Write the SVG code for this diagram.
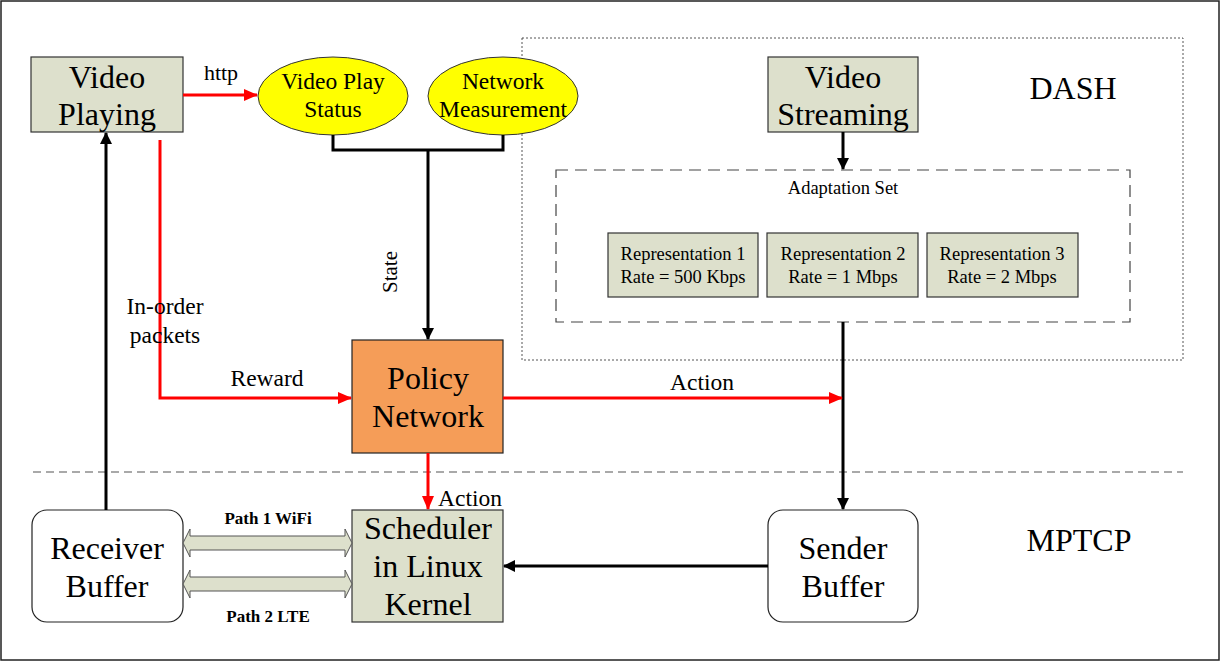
<svg xmlns="http://www.w3.org/2000/svg" width="1222" height="662" viewBox="0 0 1222 662">
<style>
text{fill:#000;text-anchor:middle}
.big{font-size:32px}
.mid{font-size:23.5px}
.sm{font-size:18.5px}
.b{font-weight:bold;font-size:17px}
.box{fill:#DDE0CC;stroke:#333;stroke-width:1.2}
.rb{fill:#fff;stroke:#222;stroke-width:1.2}
.ell{fill:#FFFF00;stroke:#333;stroke-width:1}
.k{stroke:#000;stroke-width:3;fill:none}
.r{stroke:#FF0000;stroke-width:3;fill:none}
</style>
<defs>
<marker id="ak" markerWidth="12" markerHeight="12" refX="11" refY="6" orient="auto" markerUnits="userSpaceOnUse"><path d="M0,0 L12,6 L0,12 z" fill="#000"/></marker>
<marker id="ar" markerWidth="14" markerHeight="12" refX="13" refY="6" orient="auto" markerUnits="userSpaceOnUse"><path d="M0,0 L14,6 L0,12 z" fill="#FF0000"/></marker>
</defs>
<rect x="1" y="1" width="1218" height="659" fill="#fff" stroke="#222" stroke-width="1.5"/>
<g id="dash-region">
<rect x="522" y="38" width="661" height="322" fill="none" stroke="#555" stroke-width="1" stroke-dasharray="2,2"/>
<text font-family="Liberation Serif" class="big" x="1073" y="99">DASH</text>
</g>
<line x1="33" y1="472" x2="1183" y2="472" stroke="#555" stroke-width="1.2" stroke-dasharray="8,5"/>
<text font-family="Liberation Serif" class="big" x="1079" y="551">MPTCP</text>
<g id="adaptation-set">
<rect x="556" y="170" width="574" height="152" fill="none" stroke="#444" stroke-width="1.2" stroke-dasharray="12,7"/>
<text font-family="Liberation Serif" class="sm" x="843" y="194">Adaptation Set</text>
</g>
<g id="video-playing"><rect class="box" x="31" y="57" width="152" height="75"/>
<text font-family="Liberation Serif" class="big" x="107" y="88">Video</text><text font-family="Liberation Serif" class="big" x="107" y="125">Playing</text></g>
<g id="video-play-status"><ellipse class="ell" cx="333" cy="96" rx="75" ry="39"/>
<text font-family="Liberation Serif" class="mid" x="333" y="89">Video Play</text><text font-family="Liberation Serif" class="mid" x="333" y="117">Status</text></g>
<g id="network-measurement"><ellipse class="ell" cx="503" cy="96" rx="75" ry="39"/>
<text font-family="Liberation Serif" class="mid" x="503" y="89">Network</text><text font-family="Liberation Serif" class="mid" x="503" y="117">Measurement</text></g>
<g id="video-streaming"><rect class="box" x="768" y="57" width="150" height="75"/>
<text font-family="Liberation Serif" class="big" x="843" y="88">Video</text><text font-family="Liberation Serif" class="big" x="843" y="125">Streaming</text></g>
<g id="rep1"><rect class="box" x="608" y="233" width="150" height="64"/>
<text font-family="Liberation Serif" class="sm" x="683" y="260">Representation 1</text><text font-family="Liberation Serif" class="sm" x="683" y="283">Rate = 500 Kbps</text></g>
<g id="rep2"><rect class="box" x="767" y="233" width="151" height="64"/>
<text font-family="Liberation Serif" class="sm" x="843" y="260">Representation 2</text><text font-family="Liberation Serif" class="sm" x="843" y="283">Rate = 1 Mbps</text></g>
<g id="rep3"><rect class="box" x="927" y="233" width="151" height="64"/>
<text font-family="Liberation Serif" class="sm" x="1002" y="260">Representation 3</text><text font-family="Liberation Serif" class="sm" x="1002" y="283">Rate = 2 Mbps</text></g>
<g id="policy-network"><rect x="352" y="340" width="151" height="113" fill="#F59D58" stroke="#222" stroke-width="1.2"/>
<text font-family="Liberation Serif" class="big" x="428" y="389">Policy</text><text font-family="Liberation Serif" class="big" x="428" y="427">Network</text></g>
<g id="receiver-buffer"><rect class="rb" x="32" y="510" width="151" height="112" rx="15"/>
<text font-family="Liberation Serif" class="big" x="107" y="559">Receiver</text><text font-family="Liberation Serif" class="big" x="107" y="597">Buffer</text></g>
<g id="scheduler"><rect class="box" x="352" y="510" width="151" height="112"/>
<text font-family="Liberation Serif" class="big" x="428" y="539">Scheduler</text><text font-family="Liberation Serif" class="big" x="428" y="577">in Linux</text><text font-family="Liberation Serif" class="big" x="428" y="615">Kernel</text></g>
<g id="sender-buffer"><rect class="rb" x="768" y="510" width="150" height="112" rx="15"/>
<text font-family="Liberation Serif" class="big" x="843" y="559">Sender</text><text font-family="Liberation Serif" class="big" x="843" y="597">Buffer</text></g>
<g id="connectors">
<line class="r" x1="183" y1="95" x2="257" y2="95" marker-end="url(#ar)"/>
<text font-family="Liberation Serif" font-size="22" x="221" y="80">http</text>
<polyline class="k" points="333,135 333,150 503,150 503,135"/>
<line class="k" x1="428" y1="150" x2="428" y2="339" marker-end="url(#ak)"/>
<text font-family="Liberation Serif" font-size="21" transform="translate(397,272) rotate(-90)">State</text>
<line class="k" x1="843" y1="132" x2="843" y2="169" marker-end="url(#ak)"/>
<line class="k" x1="843" y1="322" x2="843" y2="509" marker-end="url(#ak)"/>
<polyline class="r" points="160,140 160,398 351,398" marker-end="url(#ar)"/>
<text font-family="Liberation Serif" class="mid" x="267" y="386">Reward</text>
<text font-family="Liberation Serif" class="mid" x="165" y="314">In-order</text>
<text font-family="Liberation Serif" class="mid" x="165" y="343">packets</text>
<line class="k" x1="106" y1="510" x2="106" y2="133" marker-end="url(#ak)"/>
<line class="r" x1="503" y1="398" x2="842" y2="398" marker-end="url(#ar)"/>
<text font-family="Liberation Serif" class="mid" x="702" y="390">Action</text>
<line class="r" x1="428" y1="453" x2="428" y2="509" marker-end="url(#ar)"/>
<text font-family="Liberation Serif" class="mid" x="470" y="506">Action</text>
<line class="k" x1="768" y1="566" x2="504" y2="566" marker-end="url(#ak)"/>
<path d="M183,543 L190,529 L190,536 L345,536 L345,529 L352,543 L345,557 L345,550 L190,550 L190,557 Z" fill="#DDE0CC" stroke="#555" stroke-width="1"/>
<path d="M183,584 L190,570 L190,577 L345,577 L345,570 L352,584 L345,598 L345,591 L190,591 L190,598 Z" fill="#DDE0CC" stroke="#555" stroke-width="1"/>
<text font-family="Liberation Serif" class="b" x="268" y="524">Path 1 WiFi</text>
<text font-family="Liberation Serif" class="b" x="268" y="622">Path 2 LTE</text>
</g>
</svg>
